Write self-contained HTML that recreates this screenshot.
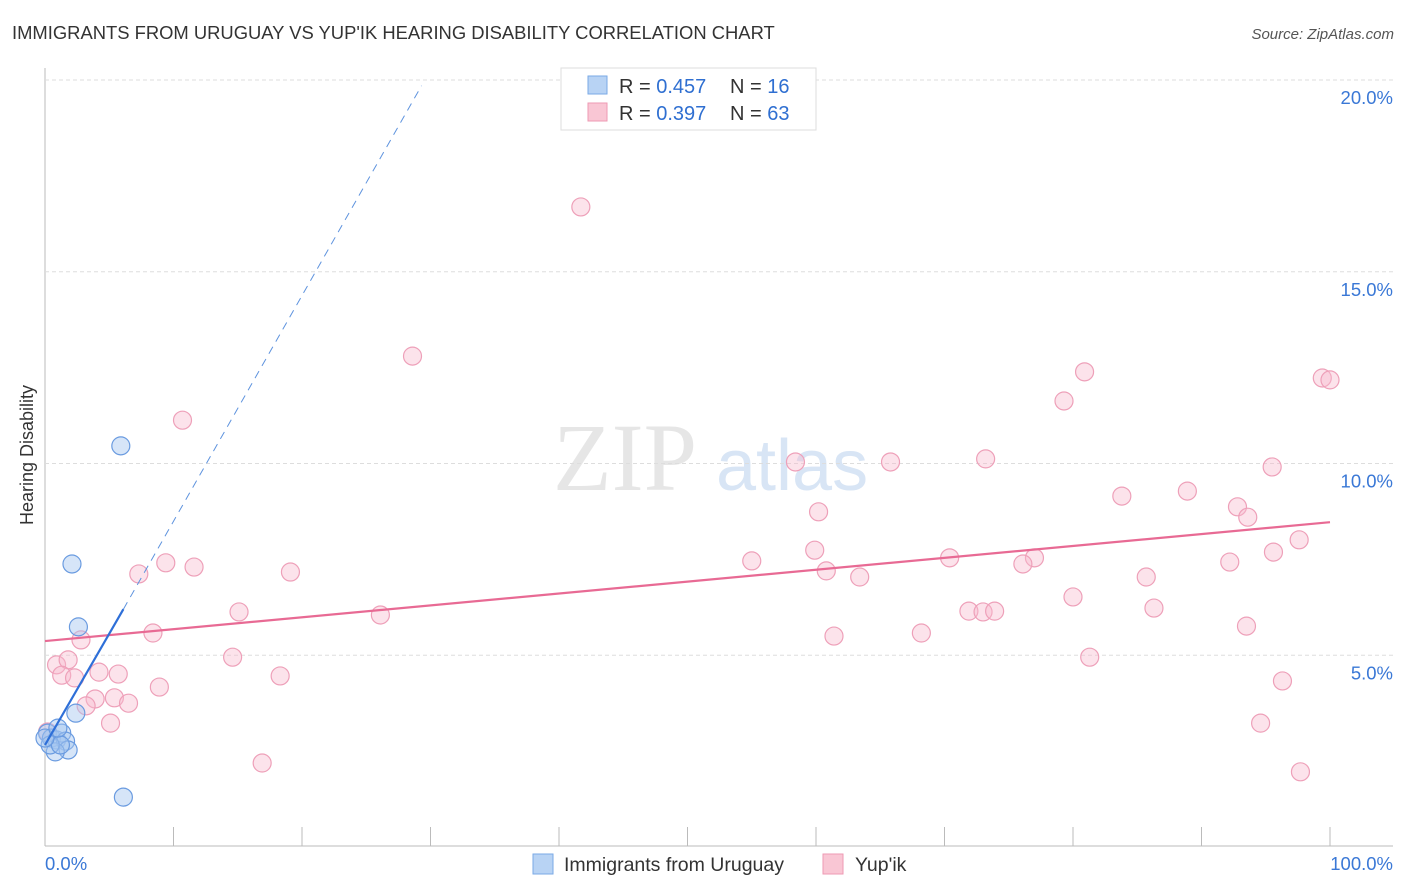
<!DOCTYPE html>
<html><head><meta charset="utf-8"><style>
body{margin:0;background:#fff;font-family:"Liberation Sans",sans-serif;}
svg{display:block}
</style></head><body>
<svg id="chart" width="1406" height="892" xmlns="http://www.w3.org/2000/svg">
<text x="12" y="39" font-size="18.4" fill="#333">IMMIGRANTS FROM URUGUAY VS YUP'IK HEARING DISABILITY CORRELATION CHART</text>
<text x="1394" y="39" font-size="15" fill="#555" font-style="italic" text-anchor="end">Source: ZipAtlas.com</text>
<text x="33" y="455" font-size="18" fill="#333" text-anchor="middle" transform="rotate(-90 33 455)">Hearing Disability</text>
<text x="553" y="490" font-size="96" fill="#e6e6e6" font-family="Liberation Serif,serif">ZIP</text>
<text x="716" y="490" font-size="72" fill="#d8e5f5">atlas</text>
<g id="grid"></g>
<g id="marks"></g>
<g>
<rect x="561" y="68" width="255" height="62" fill="#fff" stroke="#ddd"/>
<rect x="588" y="76" width="19" height="18" fill="#b8d3f4" stroke="#7aaae6"/>
<rect x="588" y="103" width="19" height="18" fill="#f9c6d4" stroke="#ee9ab3"/>
<text x="619" y="93" font-size="20" fill="#333">R = <tspan fill="#2f6fd1">0.457</tspan></text>
<text x="730" y="93" font-size="20" fill="#333">N = <tspan fill="#2f6fd1">16</tspan></text>
<text x="619" y="120" font-size="20" fill="#333">R = <tspan fill="#2f6fd1">0.397</tspan></text>
<text x="730" y="120" font-size="20" fill="#333">N = <tspan fill="#2f6fd1">63</tspan></text>
</g>
<g>
<rect x="533" y="854" width="20" height="20" fill="#b8d3f4" stroke="#7aaae6"/>
<text x="564" y="871" font-size="19.5" fill="#333">Immigrants from Uruguay</text>
<rect x="823" y="854" width="20" height="20" fill="#f9c6d4" stroke="#ee9ab3"/>
<text x="855" y="871" font-size="19.5" fill="#333">Yup'ik</text>
</g>
</svg>
<script>
const yTicks=[5,10,15,20];
const yTickLabels=["5.0%","10.0%","15.0%","20.0%"];
const xTickLabels=["0.0%","100.0%"];
const blueX=[5.9,2.1,2.6,2.4,6.1,0.2,0.5,0.9,1.3,1.6,1.8,0.8,0.4,1.2,0,1];
const blueY=[10.46,7.38,5.74,3.49,1.30,2.97,2.84,2.79,2.97,2.76,2.53,2.48,2.66,2.66,2.84,3.1];
const pinkX=[41.7,28.6,10.7,80.9,79.3,99.4,100,58.4,65.8,73.2,95.5,83.8,88.9,92.8,93.6,60.2,97.6,59.9,95.6,55.0,70.4,77.0,76.1,92.2,60.8,63.4,85.7,7.3,9.4,11.6,19.1,80.0,15.1,26.1,71.9,73.0,73.9,86.3,93.5,8.4,2.8,61.4,68.2,0.9,1.8,14.6,81.3,1.3,2.3,4.2,5.7,18.3,8.9,96.3,3.9,5.4,6.5,3.2,5.1,94.6,16.9,97.7,0.2];
const pinkY=[16.69,12.80,11.13,12.39,11.63,12.23,12.18,10.04,10.04,10.12,9.91,9.15,9.28,8.87,8.60,8.74,8.01,7.74,7.69,7.46,7.54,7.54,7.38,7.43,7.20,7.04,7.04,7.12,7.41,7.30,7.17,6.52,6.13,6.05,6.15,6.13,6.15,6.23,5.76,5.58,5.40,5.50,5.58,4.75,4.88,4.95,4.95,4.48,4.41,4.56,4.51,4.46,4.17,4.33,3.86,3.89,3.75,3.68,3.23,3.23,2.19,1.96,3.0];
const blueTrend=[0,2.66,6.1,6.2,29.3,19.85];
const pinkTrend=[0,5.37,100,8.47];
const X=v=>45+v*12.85, Y=v=>847-v*38.35;
const NS="http://www.w3.org/2000/svg";
const grid=document.getElementById('grid'), marks=document.getElementById('marks');
function mk(p,tag,a){const e=document.createElementNS(NS,tag);for(const k in a)e.setAttribute(k,a[k]);p.appendChild(e);return e;}
let ax=mk(grid,'line',{x1:45,y1:68,x2:45,y2:846,stroke:'#bbb'});


let bx=mk(grid,'line',{x1:45,y1:846,x2:1393,y2:846,stroke:'#bbb'});


for(let i=1;i<=10;i++){const t=mk(grid,'line',{x1:X(i*10),y1:827,x2:X(i*10),y2:846,stroke:'#bbb'});

}
yTicks.forEach((v,i)=>{const l=mk(grid,'line',{x1:45,y1:Y(v),x2:1393,y2:Y(v),stroke:'#ddd','stroke-dasharray':'4,3'});


const t=mk(grid,'text',{x:1393,y:Y(v)+24,'font-size':18.5,fill:'#3a78d6','text-anchor':'end'});t.textContent=yTickLabels[i];

});
[[0,'start',45],[100,'end',1393]].forEach((d,i)=>{const t=mk(grid,'text',{x:d[2],y:870,'font-size':18.5,fill:'#3a78d6','text-anchor':d[1]});t.textContent=xTickLabels[i];

});
pinkX.forEach((x,i)=>{const c=mk(marks,'circle',{cx:X(x),cy:Y(pinkY[i]),r:9,fill:'rgba(248,185,205,0.4)',stroke:'#eea0b9','stroke-width':1.2});

});
blueX.forEach((x,i)=>{const c=mk(marks,'circle',{cx:X(x),cy:Y(blueY[i]),r:9,fill:'rgba(165,198,240,0.45)',stroke:'#6a9be0','stroke-width':1.2});

});
let pl=mk(marks,'line',{x1:X(pinkTrend[0]),y1:Y(pinkTrend[1]),x2:X(pinkTrend[2]),y2:Y(pinkTrend[3]),stroke:'#e86a94','stroke-width':2.2});


let bl=mk(marks,'line',{x1:X(blueTrend[0]),y1:Y(blueTrend[1]),x2:X(blueTrend[2]),y2:Y(blueTrend[3]),stroke:'#2e6fd8','stroke-width':2.2});


let bd=mk(marks,'line',{x1:X(blueTrend[2]),y1:Y(blueTrend[3]),x2:X(blueTrend[4]),y2:Y(blueTrend[5]),stroke:'#5e93de','stroke-width':1,'stroke-dasharray':'8,6'});


</script>
</body></html>
